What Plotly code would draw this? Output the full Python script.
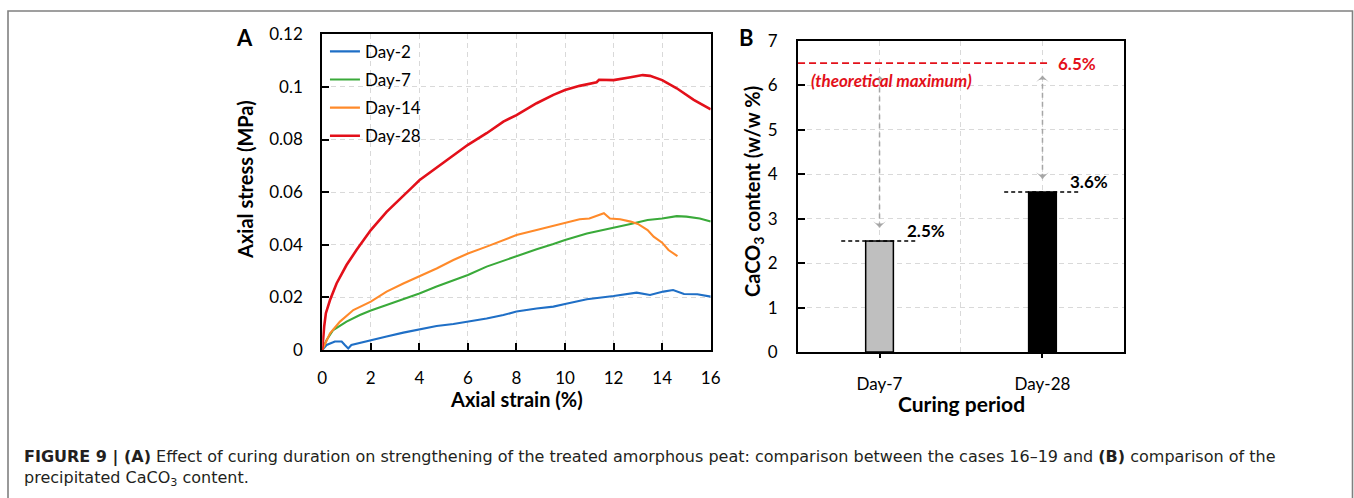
import plotly.graph_objects as go

# ---- Panel A: stress-strain curves for each curing period ----
strain_day2 = [0, 0.18, 0.52, 0.8, 0.93, 1.07, 1.2, 2, 2.65, 3.34, 4, 4.71, 5.4, 6, 6.77, 7.46, 8,
               8.83, 9.52, 10, 10.9, 12, 12.95, 13.5, 14.05, 14.45, 14.9, 15.45, 16]
stress_day2 = [0, 0.0019, 0.0032, 0.0032, 0.0019, 0.0006, 0.0019, 0.0038, 0.0051, 0.0066, 0.0079,
               0.0091, 0.0099, 0.0108, 0.012, 0.0133, 0.0146, 0.0158, 0.0165, 0.0175, 0.0193, 0.0205,
               0.0218, 0.0209, 0.0222, 0.0228, 0.0213, 0.0212, 0.0203]

strain_day7 = [0, 0.18, 0.45, 1.0, 1.55, 2, 2.65, 3.34, 4, 4.71, 5.4, 6, 6.77, 7.46, 8, 8.83, 9.52,
               10, 10.9, 11.6, 12, 12.7, 13.4, 14, 14.6, 15, 15.55, 16]
stress_day7 = [0, 0.0038, 0.0076, 0.0108, 0.0133, 0.015, 0.0171, 0.0193, 0.0215, 0.0241, 0.0266,
               0.0285, 0.0317, 0.034, 0.0357, 0.0383, 0.0403, 0.0418, 0.0443, 0.0456, 0.0466,
               0.0479, 0.0494, 0.05, 0.0509, 0.0507, 0.05, 0.0488]

strain_day14 = [0, 0.32, 0.73, 1.28, 2, 2.65, 3.34, 4, 4.71, 5.4, 6, 6.77, 7.46, 8, 8.83, 9.52, 10,
                10.6, 11, 11.4, 11.6, 11.85, 12.27, 12.7, 13.0, 13.4, 13.65, 14, 14.26, 14.63]
stress_day14 = [0, 0.0063, 0.0108, 0.0152, 0.0184, 0.0222, 0.0253, 0.0279, 0.031, 0.0342, 0.0367,
                0.0393, 0.0418, 0.0437, 0.0456, 0.0471, 0.0484, 0.0497, 0.05, 0.0513, 0.052, 0.05,
                0.0497, 0.0488, 0.0479, 0.0456, 0.0431, 0.0408, 0.038, 0.0357]

strain_day28 = [0, 0.03, 0.08, 0.15, 0.32, 0.59, 1.0, 1.41, 2.0, 2.65, 3.0, 3.34, 3.7, 4, 4.71, 5.4,
                6, 6.77, 7.46, 8, 8.83, 9.52, 10, 10.6, 11.3, 11.4, 12, 12.7, 13.2, 13.5, 14, 14.6,
                15.3, 16]
stress_day28 = [0, 0.005, 0.009, 0.014, 0.019, 0.0253, 0.0323, 0.038, 0.0456, 0.0525, 0.0555,
                0.0585, 0.0618, 0.0645, 0.0692, 0.074, 0.078, 0.0824, 0.0868, 0.0893, 0.0938,
                0.097, 0.0988, 0.1004, 0.1018, 0.1027, 0.1026, 0.1037, 0.1045, 0.1042, 0.1026,
                0.0995, 0.0951, 0.0915]

series_names = ["Day-2", "Day-7", "Day-14", "Day-28"]
series_colors = ["#1f6fc6", "#3aaa3a", "#ff8a2a", "#e3101a"]

# ---- Panel B: precipitated CaCO3 content ----
curing_periods = ["Day-7", "Day-28"]
caco3_content = [2.5, 3.6]
bar_colors = ["#bfbfbf", "#000000"]
theoretical_max = 6.5

TICK_FONT = dict(family="Lato", size=17, color="#000000")
TITLE_FONT = dict(family="Lato", size=20, color="#000000", weight="bold")
GRID = "#d9d9d9"
GRID_DASH = "5px,4px"
GAP_GREY = "#a6a6a6"

fig = go.Figure()

curves = [(strain_day2, stress_day2), (strain_day7, stress_day7),
          (strain_day14, stress_day14), (strain_day28, stress_day28)]
for (sx, sy), name, col in zip(curves, series_names, series_colors):
    fig.add_trace(go.Scatter(
        x=sx, y=sy, mode="lines", name=name, legendgroup=name,
        line=dict(color=col, width=2.6 if name == "Day-28" else 2.1),
        xaxis="x", yaxis="y"))

# bars
fig.add_trace(go.Bar(
    x=[0, 1], y=caco3_content, width=0.17,
    marker=dict(color=bar_colors, line=dict(color="#000000", width=1.5)),
    showlegend=False, xaxis="x2", yaxis="y2"))

# arrowheads marking the gap between each bar and the theoretical maximum
for i, v in enumerate(caco3_content):
    fig.add_trace(go.Scatter(
        x=[i, i], y=[v + 0.3, theoretical_max - 0.28], mode="markers",
        marker=dict(symbol="arrow-wide", size=9, color=GAP_GREY, angle=[180, 0],
                    line=dict(width=0)),
        showlegend=False, hoverinfo="skip", xaxis="x2", yaxis="y2"))

axis_common = dict(showline=True, linecolor="#000000", linewidth=2, mirror=True,
                   ticks="inside", ticklen=7, tickwidth=1.5, tickcolor="#000000",
                   tickfont=TICK_FONT, showgrid=True, gridcolor=GRID, griddash=GRID_DASH,
                   gridwidth=1, zeroline=False)

fig.update_layout(
    width=1354, height=498,
    margin=dict(l=0, r=0, t=0, b=0, autoexpand=False),
    paper_bgcolor="#ffffff", plot_bgcolor="#ffffff",
    showlegend=True,
    legend=dict(x=0.240, y=0.932, xanchor="left", yanchor="top",
                font=dict(family="Lato", size=17, color="#000000"),
                bgcolor="rgba(0,0,0,0)", tracegroupgap=3, itemwidth=30),
    xaxis=dict(domain=[0.2380, 0.5249], range=[0, 16], tickvals=list(range(0, 17, 2)),
               ticklabelstandoff=12, anchor="y", **axis_common),
    yaxis=dict(domain=[0.2972, 0.9311], range=[0, 0.12], tickvals=[0, 0.02, 0.04, 0.06, 0.08, 0.1, 0.12],
               ticktext=["0", "0.02", "0.04", "0.06", "0.08", "0.1", "0.12"],
               ticklabelstandoff=14, anchor="x", **axis_common),
    xaxis2=dict(domain=[0.5894, 0.8301], range=[-0.5, 1.5], tickvals=[0, 1], ticktext=curing_periods,
                showline=True, linecolor="#000000", linewidth=2, mirror=True,
                ticks="outside", ticklen=4, tickwidth=1.5, tickcolor="#000000",
                tickfont=TICK_FONT, ticklabelstandoff=12,
                showgrid=True, gridcolor=GRID, griddash=GRID_DASH, gridwidth=1, zeroline=False,
                minor=dict(tickvals=[0.5], showgrid=True, gridcolor=GRID, griddash=GRID_DASH,
                           gridwidth=1, ticks=""),
                anchor="y2"),
    yaxis2=dict(domain=[0.2932, 0.9177], range=[0, 7], dtick=1,
                ticklabelstandoff=15, anchor="x2", **axis_common),
)

shapes = []
annotations = []

# outer figure frame
shapes.append(dict(type="rect", xref="paper", yref="paper", x0=8 / 1354, x1=1352.5 / 1354,
                   y0=-0.05, y1=(498 - 11) / 498, line=dict(color="#808080", width=1.6)))

# theoretical maximum line
shapes.append(dict(type="line", xref="x2", yref="y2", x0=-0.5, x1=1.03,
                   y0=theoretical_max, y1=theoretical_max,
                   line=dict(color="#e3101a", width=1.8, dash="7px,4px")))
annotations.append(dict(xref="x2", yref="y2", x=1.085, y=theoretical_max, xanchor="left",
                        yanchor="middle", text=f"{theoretical_max}%", showarrow=False,
                        font=dict(family="Lato", size=17, color="#e3101a", weight="bold")))
annotations.append(dict(xref="x2", yref="y2", x=-0.435, y=6.1, xanchor="left", yanchor="middle",
                        text="(theoretical maximum)", showarrow=False,
                        font=dict(family="Lato", size=17, color="#e3101a", weight="bold",
                                  style="italic")))

# bar-top levels, gap shafts and value labels
for i, v in enumerate(caco3_content):
    shapes.append(dict(type="line", xref="x2", yref="y2", x0=i - 0.235, x1=i + 0.22, y0=v, y1=v,
                       line=dict(color="#000000", width=1.5, dash="4px,3px")))
    shapes.append(dict(type="line", xref="x2", yref="y2", x0=i, x1=i, y0=v + 0.3,
                       y1=theoretical_max - 0.28,
                       line=dict(color=GAP_GREY, width=1.5, dash="5px,4px")))
    annotations.append(dict(xref="x2", yref="y2", x=i + 0.155, y=v + 0.23, xanchor="left",
                            yanchor="middle", text=f"{v}%", showarrow=False,
                            font=dict(family="Lato", size=17, color="#000000", weight="bold")))


def paper_note(px, py, text, font, angle=0, xanchor="center"):
    return dict(xref="paper", yref="paper", x=px / 1354, y=(498 - py) / 498,
                xanchor=xanchor, yanchor="middle", textangle=angle,
                text=text, showarrow=False, font=font)


# axis titles and panel letters
annotations += [
    paper_note(245, 180, "Axial stress (MPa)", TITLE_FONT, angle=-90),
    paper_note(516, 399, "Axial strain (%)", TITLE_FONT),
    paper_note(753, 192, "CaCO<sub>3</sub> content (w/w %)", TITLE_FONT, angle=-90),
    paper_note(961, 403, "Curing period",
               dict(family="Lato", size=21, color="#000000", weight="bold")),
    paper_note(244, 38, "A", dict(family="Lato", size=22, color="#000000", weight="bold")),
    paper_note(746, 38, "B", dict(family="Lato", size=22, color="#000000", weight="bold")),
]

# caption
CAP = dict(family="DejaVu Sans, sans-serif", size=16, color="#231f20")
annotations += [
    paper_note(22, 457,
               "<b>FIGURE 9 | (A)</b> Effect of curing duration on strengthening of the treated "
               "amorphous peat: comparison between the cases 16–19 and <b>(B)</b> comparison of the",
               CAP, xanchor="left"),
    paper_note(22, 478, "precipitated CaCO<sub>3</sub> content.", CAP, xanchor="left"),
]

fig.update_layout(shapes=shapes, annotations=annotations)
fig.write_html("out.html")
